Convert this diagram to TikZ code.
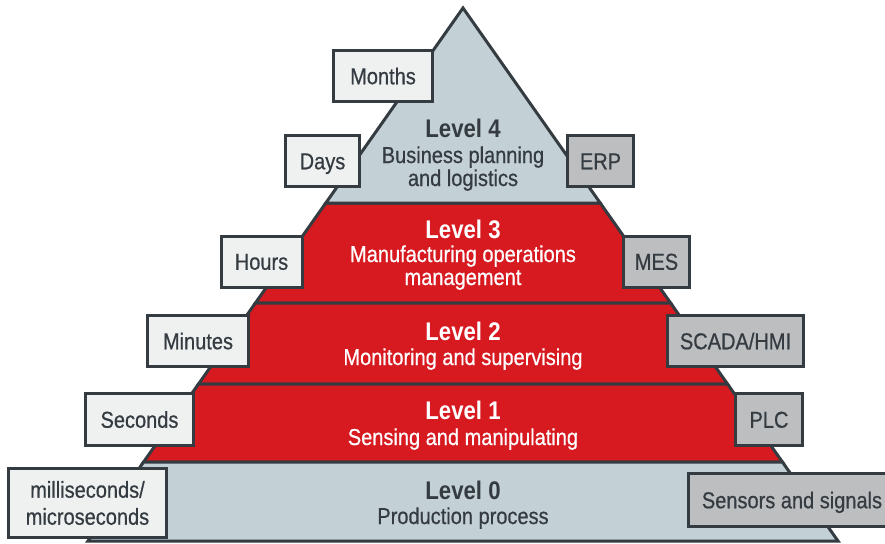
\documentclass[tikz,border=0pt]{standalone}
\usepackage{fontspec}
\setmainfont{Liberation Sans}[FakeStretch=0.87]
\newfontfamily\regfont{Liberation Sans}[FakeStretch=0.87, FakeBold=0.6]
\definecolor{ink}{HTML}{343B41}
\definecolor{pale}{HTML}{C3D0D6}
\definecolor{brand}{HTML}{D71920}
\definecolor{boxl}{HTML}{EFF1F1}
\definecolor{boxr}{HTML}{BDBEC0}
\begin{document}
\begin{tikzpicture}[x=1pt,y=-1pt,
  band/.style={draw=ink, line width=3pt, line join=miter},
  boxbase/.style={draw=ink, line width=3pt, inner sep=0pt, text=ink,
    font=\regfont\fontsize{23}{27}\selectfont, anchor=center},
  lbox/.style={boxbase, fill=boxl, text height=16.5pt, text depth=0pt},
  rbox/.style={boxbase, fill=boxr, text height=16.5pt, text depth=0pt},
  head/.style={anchor=base, inner sep=0pt, font=\bfseries\fontsize{25.5}{28}\selectfont},
  sub/.style={anchor=base, inner sep=0pt, font=\regfont\fontsize{23}{27}\selectfont},
  dk/.style={text=ink}, wt/.style={text=white}]
\useasboundingbox (0,0) rectangle (885,543);
\clip (0,0) rectangle (885,543);
% pyramid bands
\coordinate (apex) at (463,8);
\coordinate (a1) at (325.8,203); \coordinate (b1) at (600.2,203);
\coordinate (a2) at (255.4,303); \coordinate (b2) at (670.6,303);
\coordinate (a3) at (198.5,384); \coordinate (b3) at (727.5,384);
\coordinate (a4) at (143.6,462); \coordinate (b4) at (782.4,462);
\coordinate (a5) at (88,541);    \coordinate (b5) at (838,541);
\filldraw[band, fill=brand] (a1) -- (b1) -- (b2) -- (a2) -- cycle;
\filldraw[band, fill=brand] (a2) -- (b2) -- (b3) -- (a3) -- cycle;
\filldraw[band, fill=brand] (a3) -- (b3) -- (b4) -- (a4) -- cycle;
\filldraw[band, fill=pale] (a4) -- (b4) -- (b5) -- (a5) -- cycle;
\filldraw[band, fill=pale] (apex) -- (b1) -- (a1) -- cycle;
% time boxes (left)
\node[lbox, minimum width=99pt, minimum height=51pt] (months) at (383,76) {Months};
\node[lbox, minimum width=74pt, minimum height=51pt] (days) at (322.5,161) {Days};
\node[lbox, minimum width=81pt, minimum height=51pt] (hours) at (261.5,261.5) {Hours};
\node[lbox, minimum width=101pt, minimum height=51pt] (minutes) at (198,341) {Minutes};
\node[lbox, minimum width=108pt, minimum height=52pt] (seconds) at (139.5,419.5) {Seconds};
\node[boxbase, fill=boxl, align=center, minimum width=158pt, minimum height=69pt] (msec) at (87.5,503) {milliseconds/\\microseconds};
% system boxes (right)
\node[rbox, minimum width=66pt, minimum height=51pt] (erp) at (600.5,161) {ERP};
\node[rbox, minimum width=66pt, minimum height=51pt] (mes) at (656.5,261.5) {MES};
\node[rbox, minimum width=136pt, minimum height=51pt] (scada) at (735.5,341) {SCADA/HMI};
\node[rbox, minimum width=67pt, minimum height=52pt] (plc) at (769,419.5) {PLC};
\node[rbox, minimum width=207pt, minimum height=53pt] (sensors) at (792,500) {Sensors and signals};
% level texts
\node[head, dk] (l4h) at (463,137) {Level 4};
\node[sub, dk] (l4a) at (463,163) {Business planning};
\node[sub, dk] (l4b) at (463,186) {and logistics};
\node[head, wt] (l3h) at (463,238) {Level 3};
\node[sub, wt] (l3a) at (463,262) {Manufacturing operations};
\node[sub, wt] (l3b) at (463,285) {management};
\node[head, wt] (l2h) at (463,340) {Level 2};
\node[sub, wt] (l2a) at (463,365) {Monitoring and supervising};
\node[head, wt] (l1h) at (463,419) {Level 1};
\node[sub, wt] (l1a) at (463,445) {Sensing and manipulating};
\node[head, dk] (l0h) at (463,499) {Level 0};
\node[sub, dk] (l0a) at (463,524) {Production process};
\end{tikzpicture}
\end{document}
